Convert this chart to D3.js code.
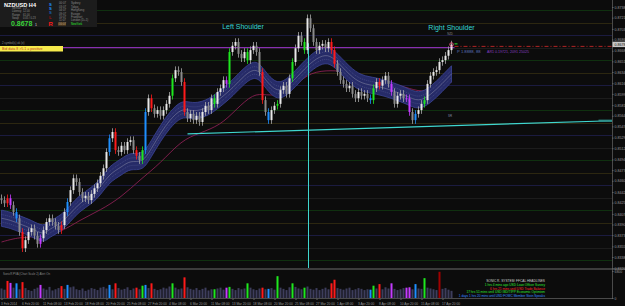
<!DOCTYPE html>
<html><head><meta charset="utf-8">
<script src="https://cdn.jsdelivr.net/npm/d3@7"></script>
<style>
html,body{margin:0;padding:0;background:#0c0c0c;}
svg{display:block;font-family:"Liberation Sans",Arial,sans-serif;}
</style></head><body>
<svg id="c" width="625" height="306"></svg>
<script>
// ---------- DATA ----------
const closes = [0.8429,0.8424,0.8432,0.8421,0.8410,0.8400,0.8378,0.8352,0.8365,0.8378,
0.8384,0.8372,0.8359,0.8368,0.8381,0.8394,0.8400,0.8394,0.8388,0.8381,
0.8389,0.8410,0.8426,0.8445,0.8464,0.8458,0.8442,0.8432,0.8436,0.8429,
0.8439,0.8448,0.8456,0.8468,0.8480,0.8506,0.8528,0.8538,0.8509,0.8506,
0.8516,0.8509,0.8522,0.8525,0.8509,0.8500,0.8493,0.8509,0.8570,0.8592,
0.8576,0.8567,0.8573,0.8564,0.8573,0.8583,0.8596,0.8624,0.8637,0.8634,
0.8618,0.8570,0.8560,0.8567,0.8557,0.8564,0.8554,0.8570,0.8580,0.8573,
0.8592,0.8583,0.8602,0.8608,0.8621,0.8615,0.8666,0.8676,0.8682,0.8663,
0.8656,0.8666,0.8653,0.8669,0.8676,0.8666,0.8634,0.8589,0.8570,0.8557,
0.8573,0.8580,0.8583,0.8605,0.8612,0.8599,0.8624,0.8650,0.8672,0.8692,
0.8682,0.8669,0.8720,0.8704,0.8682,0.8669,0.8676,0.8679,0.8672,0.8682,
0.8669,0.8647,0.8634,0.8621,0.8615,0.8608,0.8612,0.8599,0.8592,0.8602,
0.8596,0.8599,0.8592,0.8589,0.8608,0.8618,0.8612,0.8621,0.8628,0.8615,
0.8602,0.8583,0.8596,0.8599,0.8592,0.8592,0.8570,0.8557,0.8567,0.8573,
0.8583,0.8589,0.8615,0.8628,0.8634,0.8637,0.8650,0.8653,0.8660,0.8669,
0.8678];
const volumes = [2400,2100,4300,3800,2600,3700,2200,4000,2500,2000,
1800,2300,2600,3300,2400,2100,2800,1900,2200,2500,
3000,2300,3300,2700,2900,2200,2000,2400,1800,2100,
2500,2300,2000,2600,2800,2400,3300,2200,3700,2500,
2100,2300,2700,2000,2400,2600,2200,3100,3300,2500,
3700,2300,2000,2200,2600,2400,2900,3700,2600,2200,
2400,5200,2700,2300,2100,2500,2000,2300,2600,1900,
2200,2200,2400,2600,2100,2600,2800,2300,2000,2500,
2200,2400,3700,2600,2200,2000,2400,2600,2200,2300,
2500,2100,5500,2600,2300,2000,2700,3700,2800,2400,
2200,2600,2900,2300,2100,2500,2000,2300,2600,2200,
3700,4600,2500,2300,2100,2400,2600,2000,2200,2500,
2300,2000,2200,2100,3100,2400,3500,2200,2700,2400,
3700,2300,2000,2200,2500,2600,2700,2200,3500,2400,
2300,5000,2600,2400,2200,2000,6600,2300,2500,2100,1800];
// PVA signal bars: [bar index, colour name]
const signalBars = [[2,"red"],[3,"magenta"],[5,"blue"],[7,"red"],[13,"magenta"],[20,"red"],[22,"blue"],
[36,"blue"],[38,"red"],[45,"red"],[47,"green"],[48,"blue"],[50,"red"],[57,"green"],[61,"red"],
[71,"green"],[75,"magenta"],[76,"green"],[82,"green"],[87,"red"],[89,"blue"],[92,"green"],[97,"green"],
[101,"green"],[110,"red"],[111,"red"],[123,"blue"],[124,"green"],[126,"red"],[130,"magenta"],
[135,"magenta"],[136,"magenta"],[138,"blue"],[141,"green"]];
const volumeOnlySignals = [[146,"darkred"]];
// EMA band (centre) and slow MA, read at knots [bar index, price]
const bandCentre = [[0,0.8400],[3,0.8397],[6,0.8391],[10,0.8384],[14,0.8373],[16,0.8383],[20,0.8392],
[23,0.8408],[26,0.8424],[30,0.8436],[33,0.8450],[36,0.8471],[40,0.8482],[43,0.8493],[47,0.8488],
[50,0.8512],[53,0.8536],[56,0.8557],[60,0.8576],[63,0.8572],[66,0.8572],[70,0.8580],[74,0.8596],
[77,0.8608],[81,0.8629],[85,0.8642],[88,0.8621],[92,0.8600],[96,0.8613],[100,0.8634],[104,0.8653],
[108,0.8663],[111,0.8656],[116,0.8629],[120,0.8615],[125,0.8612],[130,0.8605],[135,0.8596],
[139,0.8586],[143,0.8597],[147,0.8616],[150,0.8631]];
const slowMA = [[0,0.8362],[6,0.8370],[13,0.8370],[20,0.8378],[26,0.8397],[33,0.8413],[40,0.8434],
[46,0.8461],[53,0.8488],[60,0.8525],[66,0.8536],[73,0.8549],[78,0.8573],[84,0.8600],[88,0.8597],
[94,0.8597],[98,0.8613],[103,0.8634],[110,0.8637],[116,0.8634],[124,0.8621],[133,0.8613],
[139,0.8602],[144,0.8605],[150,0.8618]];
const neckline = [[62,0.8535],[203.5,0.8556]];
const headBarIndex = 102;
const resistanceLevel = 0.8673;
const currentPrice = 0.8678;
const levelLines = [0.8733,0.8713,0.8693,0.8673,0.8653,0.8633,0.8613,0.8593,0.8573,0.8553,0.8533,
0.8513,0.8493,0.8473,0.8453,0.8433,0.8413,0.8393,0.8373,0.8353,0.8333];
const priceTicks = [0.8738,0.8721,0.8703,0.8686,0.8668,0.8651,0.8634,0.8616,0.8599,0.8581,0.8564,
0.8547,0.8529,0.8512,0.8494,0.8477,0.8460,0.8442,0.8425,0.8407,0.8390,0.8373,0.8355,0.8338,0.8320];
const timeLabels = ["3 Feb 2014","6 Feb 20:00","11 Feb 08:00","13 Feb 20:00","18 Feb 08:00","20 Feb 20:00",
"25 Feb 08:00","27 Feb 20:00","4 Mar 08:00","6 Mar 20:00","11 Mar 08:00","13 Mar 20:00","18 Mar 08:00",
"20 Mar 20:00","25 Mar 08:00","27 Mar 20:00","1 Apr 08:00","3 Apr 20:00","8 Apr 08:00","10 Apr 20:00",
"15 Apr 08:00","17 Apr 20:00"];
const timeTickIdx = timeLabels.map((d,i)=>i*7);
const volumeTicks = [0,6800];
const sessions = [["00:07","Sydney"],["03:07","Tokyo"],["04:07","HongKong"],["09:07","Europe"],
["10:07","Frankfurt"],["11:07","London (D+1)"],["16:07","NewYork"]];
const infoRows = [["Spread","1.3"],["Latency","12.00"],["Range","61.00"],["Swap","0.05 / 0.23"]];
const news = [["SONIC R. SYSTEM: FFCAL HEADLINES","#d0d0d0"],
["1 hrs 4 mins ago USD Loan Officer Survey","#2ee82e"],
["6 hrs 21 mins until USD Trade Balance","#ff2a2a"],
["17 hrs 51 mins until USD IBD/TIPP Economic Optimism","#2ee82e"],
["1 days 1 hrs 20 mins until USD FOMC Member Stein Speaks","#3a8cff"]];

// ---------- DRAW ----------
const WICK = 0.0006, BAND_HALF = 0.0013;
const palette = {red:"#ff1a1a",green:"#1ee81e",blue:"#1e8fff",magenta:"#c43cff",darkred:"#a00000"};
const svg = d3.select("#c");
const x = d3.scaleLinear().domain([0,150]).range([1.5,451.5]);
const y = d3.scaleLinear().domain([0.83204,0.8738]).range([268,7]);
const yv = d3.scaleLinear().domain([0,6800]).range([298,271]);

svg.append("rect").attr("width",625).attr("height",306).attr("fill","#0c0c0c");
svg.append("defs").append("clipPath").attr("id","mc").append("rect")
  .attr("x",0).attr("y",0).attr("width",612).attr("height",268);
const main = svg.append("g").attr("clip-path","url(#mc)");

const levelCols = ["#0f300f","#2c2710","#1b1b40","#1c1c1c"];
main.selectAll("line.lvl").data(levelLines).join("line").attr("class","lvl")
  .attr("x1",0).attr("x2",612).attr("y1",d=>Math.round(y(d))+0.5).attr("y2",d=>Math.round(y(d))+0.5)
  .attr("stroke",(d,i)=>levelCols[i%4]).attr("stroke-width",1);

// slow MA
const lineGen = d3.line().x(d=>x(d[0])).y(d=>y(d[1])).curve(d3.curveBasis);
main.append("path").attr("d",lineGen(slowMA)).attr("fill","none").attr("stroke","#8a1f52").attr("stroke-width",0.9);

// band
const area = d3.area().x(d=>x(d[0])).y0(d=>y(d[1]-BAND_HALF)).y1(d=>y(d[1]+BAND_HALF)).curve(d3.curveBasis);
main.append("path").attr("d",area(bandCentre)).attr("fill","#262b68").attr("stroke","#3c4596").attr("stroke-width",0.8);
[-0.0006,0.0006].forEach(o=>{
  main.append("path").attr("d",d3.line().x(d=>x(d[0])).y(d=>y(d[1]+o)).curve(d3.curveBasis)(bandCentre))
   .attr("fill","none").attr("stroke","#5c6298").attr("stroke-width",0.5).attr("stroke-dasharray","1,1");
});
main.append("path").attr("d",lineGen(bandCentre)).attr("fill","none").attr("stroke","#8c8fa8").attr("stroke-width",0.5);

// neckline & head marker
main.append("line").attr("x1",Math.round(x(headBarIndex))+0.5).attr("x2",Math.round(x(headBarIndex))+0.5)
  .attr("y1",y(0.8680)).attr("y2",268).attr("stroke","#3fd6cf").attr("stroke-width",1);
main.append("path").attr("d",d3.line().x(d=>x(d[0])).y(d=>y(d[1]))(neckline))
  .attr("stroke","#3fd6cf").attr("stroke-width",1.2).attr("fill","none");
main.append("line").attr("x1",x(199)).attr("x2",612).attr("y1",y(0.8556)).attr("y2",y(0.8556))
  .attr("stroke","#2f8f8a").attr("stroke-width",2.2);

// resistance line
main.append("line").attr("x1",63).attr("x2",x(151)).attr("y1",y(resistanceLevel)).attr("y2",y(resistanceLevel))
  .attr("stroke","#9b35c8").attr("stroke-width",1);
main.append("line").attr("x1",x(151)).attr("x2",612).attr("y1",y(0.8675)).attr("y2",y(0.8675))
  .attr("stroke","#c42828").attr("stroke-width",0.9).attr("stroke-dasharray","4,2,1,2");

// candles
const sig = new Map(signalBars);
const candles = closes.map((c,i)=>{
  const o = i===0 ? c+0.0003 : closes[i-1];
  return {i,o,c,h:Math.max(o,c)+WICK,l:Math.min(o,c)-WICK};
});
const cg = main.append("g");
candles.forEach(d=>{
  const col = sig.has(d.i) ? palette[sig.get(d.i)] : (d.c>=d.o ? "#e8e8e8" : "#8a8a8a");
  const wcol = sig.has(d.i) ? col : "#a8a8a8";
  cg.append("line").attr("x1",x(d.i)).attr("x2",x(d.i)).attr("y1",y(d.h)).attr("y2",y(d.l))
    .attr("stroke",wcol).attr("stroke-width",0.8);
  const top = y(Math.max(d.o,d.c)), bot = y(Math.min(d.o,d.c));
  cg.append("rect").attr("x",x(d.i)-1).attr("width",2).attr("y",top).attr("height",Math.max(1,bot-top)).attr("fill",col);
});
// last bar marker
main.append("circle").attr("cx",x(150)).attr("cy",y(0.8678)).attr("r",1.8).attr("fill","none").attr("stroke","#ff5a8a").attr("stroke-width",0.8);
main.append("line").attr("x1",x(150)+3).attr("x2",x(150)+6).attr("y1",y(0.8679)).attr("y2",y(0.8679)).attr("stroke","#2ee82e").attr("stroke-width",1);

// annotations
svg.append("text").attr("x",x(80.5)).attr("y",29).attr("text-anchor","middle").attr("fill","#36d6d0").attr("font-size",7).text("Left Shoulder");
svg.append("text").attr("x",x(150)).attr("y",30).attr("text-anchor","middle").attr("fill","#36d6d0").attr("font-size",7).text("Right Shoulder");
svg.append("text").attr("x",x(149.5)).attr("y",35).attr("text-anchor","middle").attr("fill","#888").attr("font-size",2.8).text("NZD");
svg.append("text").attr("x",x(149.5)).attr("y",117).attr("text-anchor","middle").attr("fill","#8a8fb0").attr("font-size",2.8).text("SR");
svg.append("text").attr("x",457).attr("y",53).attr("fill","#5b70b8").attr("font-size",4.2).text("P 1.8888, 88");
svg.append("text").attr("x",487).attr("y",53).attr("fill","#8a3cc0").attr("font-size",3.6).text("AR1 0.19721, 2091 25025");

// info panel
svg.append("rect").attr("x",0).attr("y",0).attr("width",97).attr("height",27).attr("fill","#1c1c1c");
svg.append("text").attr("x",4).attr("y",6.5).attr("fill","#fff").attr("font-size",5.6).attr("font-weight","bold").text("NZDUSD  H4");
infoRows.forEach((r,i)=>{
  svg.append("text").attr("x",12).attr("y",9.3+i*3.1).attr("fill","#8c8c8c").attr("font-size",2.7).text(r[0]);
  svg.append("text").attr("x",23).attr("y",9.3+i*3.1).attr("fill","#8c8c8c").attr("font-size",2.7).text(r[1]);
});
svg.append("text").attr("x",11).attr("y",26.3).attr("fill","#3ad13a").attr("font-size",7).attr("font-weight","bold").text("0.8678");
svg.append("text").attr("x",35).attr("y",26).attr("fill","#ddd").attr("font-size",3.5).text("1");
[["S","#1e8fff",6],["S","#1e8fff",10],["S","#1a5fb0",14],["L","#a01010",18.5]].forEach(d=>{
  svg.append("text").attr("x",49).attr("y",d[2]).attr("fill",d[1]).attr("font-size",4.2).attr("font-weight","bold").text(d[0]);
});
svg.append("text").attr("x",48.5).attr("y",26).attr("fill","#ff1a1a").attr("font-size",6).attr("font-weight","bold").text("R");
sessions.forEach((s,i)=>{
  const yy = 4.2+i*3.45;
  if(i===6) svg.append("rect").attr("x",58).attr("y",yy-2.6).attr("width",8).attr("height",3.2).attr("fill","#6a4a20");
  svg.append("text").attr("x",59).attr("y",yy).attr("fill","#8c8c8c").attr("font-size",2.8).text(s[0]);
  svg.append("text").attr("x",71).attr("y",yy).attr("fill",i===6?"#2ee82e":"#8c8c8c").attr("font-size",2.8).text(s[1]);
});
svg.append("text").attr("x",2).attr("y",44).attr("fill","#888").attr("font-size",2.8).text("2 symbol(s) ok (e)");
svg.append("rect").attr("x",0).attr("y",46).attr("width",63).attr("height",5.5).attr("fill","#f6ea4c");
svg.append("text").attr("x",2).attr("y",50.3).attr("fill","#c03a2a").attr("font-size",3.6).text("Bid data 8 >5.1 = positive");

// separators & price axis
svg.append("rect").attr("x",0).attr("y",268).attr("width",625).attr("height",2).attr("fill","#3c3c3c");
svg.append("line").attr("x1",0).attr("x2",612).attr("y1",298.5).attr("y2",298.5).attr("stroke","#5a5a5a").attr("stroke-width",0.8);
svg.append("line").attr("x1",612.5).attr("x2",612.5).attr("y1",0).attr("y2",299).attr("stroke","#5a5a5a").attr("stroke-width",0.8);

const ay = svg.append("g").attr("transform","translate(612,0)")
  .call(d3.axisRight(y).tickValues(priceTicks).tickFormat(d3.format(".4f")).tickSize(1.5));
ay.select(".domain").remove();
ay.selectAll("line").attr("stroke","#666");
ay.selectAll("text").attr("fill","#9a9a9a").attr("font-size",3.6).attr("x",2.5);

svg.append("rect").attr("x",612.5).attr("y",y(currentPrice)-2.8).attr("width",12.5).attr("height",5.4).attr("fill","#c8c8c8");
svg.append("text").attr("x",614.5).attr("y",y(currentPrice)+1.3).attr("fill","#111").attr("font-size",3.6).text(d3.format(".4f")(currentPrice));

// volume panel
svg.append("text").attr("x",3).attr("y",274.5).attr("fill","#888").attr("font-size",2.9).text("SonicR PVA  (Chart Scale 2)   Alert On");
const vsig = new Map([...signalBars, ...volumeOnlySignals]);
svg.append("g").selectAll("rect").data(volumes).join("rect")
  .attr("x",(d,i)=>x(i)-1).attr("width",2).attr("y",d=>yv(d)).attr("height",d=>298-yv(d))
  .attr("fill",(d,i)=>vsig.has(i)?palette[vsig.get(i)]:"#3d3d5c");
const av = svg.append("g").attr("transform","translate(612,0)")
  .call(d3.axisRight(yv).tickValues(volumeTicks).tickFormat(d=>d===0?"0":d).tickSize(1.5));
av.select(".domain").remove();
av.selectAll("line").attr("stroke","#666");
av.selectAll("text").attr("fill","#9a9a9a").attr("font-size",3.4).attr("x",2.5);

news.forEach((n,i)=>{
  svg.append("text").attr("x",545).attr("y",282+i*3.8).attr("text-anchor","end").attr("fill",n[1]).attr("font-size",3.2).text(n[0]);
});

// time axis
const ax = svg.append("g").attr("transform","translate(0,298.5)")
  .call(d3.axisBottom(x).tickValues(timeTickIdx).tickFormat((d,i)=>timeLabels[i]).tickSize(1.5));
ax.select(".domain").remove();
ax.selectAll("line").attr("stroke","#666");
ax.selectAll("text").attr("fill","#9a9a9a").attr("font-size",3.2).attr("text-anchor","start").attr("dx",-1).attr("y",4);
</script>
</body></html>
